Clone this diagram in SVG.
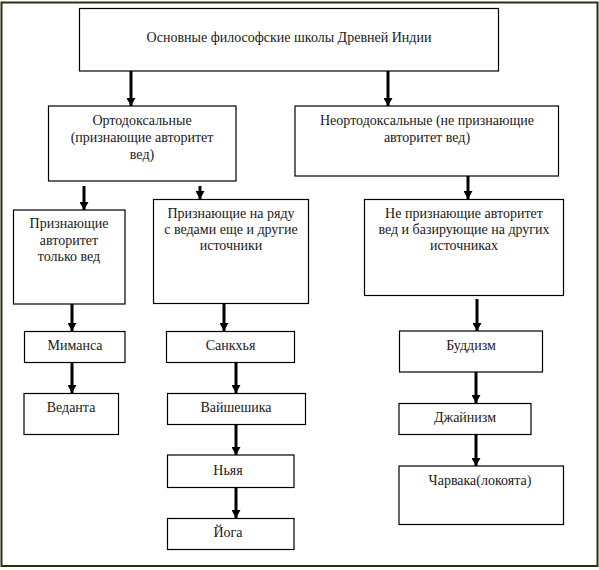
<svg xmlns="http://www.w3.org/2000/svg" width="599" height="570" viewBox="0 0 599 570">
<defs>
<marker id="ah" viewBox="0 0 8 9" refX="8" refY="4.5" markerWidth="8" markerHeight="9" markerUnits="userSpaceOnUse" orient="auto">
<path d="M0,0 L8,4.5 L0,9 Z" fill="#000"/>
</marker>
<style>
.b{fill:#fff;stroke:#000;stroke-width:1.2}
.t{font-family:"Liberation Serif","Times New Roman",serif;font-size:14px;fill:#1a1a1a;text-anchor:middle;dominant-baseline:central}
.c line{stroke:#000;stroke-width:3;marker-end:url(#ah)}
</style>
</defs>
<rect x="0" y="0" width="599" height="570" fill="#fff"/>
<rect x="1.5" y="2.5" width="596" height="563.5" fill="#fff" stroke="#2e2e10" stroke-width="2"/>
<g class="c" id="connectors">
<line x1="131" y1="71" x2="131" y2="106"/>
<line x1="388" y1="71" x2="388" y2="106"/>
<line x1="84" y1="186" x2="84" y2="210"/>
<line x1="200" y1="186" x2="200" y2="199"/>
<line x1="468" y1="176" x2="468" y2="199"/>
<line x1="72" y1="304" x2="72" y2="331"/>
<line x1="224" y1="303" x2="224" y2="331"/>
<line x1="477" y1="299" x2="477" y2="331"/>
<line x1="72" y1="362" x2="72" y2="393"/>
<line x1="236" y1="362" x2="236" y2="393"/>
<line x1="476" y1="372" x2="476" y2="403"/>
<line x1="236" y1="419" x2="236" y2="455"/>
<line x1="236" y1="487" x2="236" y2="518"/>
<line x1="476" y1="434" x2="476" y2="466"/>
</g>
<g id="root"><rect class="b" x="79.5" y="8.5" width="419" height="62.5"/><text class="t" font-family="Liberation Serif, serif" x="289" y="37.5">Основные философские школы Древней Индии</text></g>
<g id="ortho"><rect class="b" x="48.5" y="106" width="187.5" height="75"/><text class="t" x="142" y="120">Ортодоксальные</text><text class="t" x="142" y="137">(признающие авторитет</text><text class="t" x="142" y="154">вед)</text></g>
<g id="neortho"><rect class="b" x="295" y="106" width="263.5" height="70"/><text class="t" x="427" y="120">Неортодоксальные (не признающие</text><text class="t" x="427" y="137">авторитет вед)</text></g>
<g id="only"><rect class="b" x="13.5" y="210" width="111.5" height="94"/><text class="t" x="69" y="223.5">Признающие</text><text class="t" x="69" y="240">авторитет</text><text class="t" x="69" y="256">только вед</text></g>
<g id="other"><rect class="b" x="153.5" y="199.5" width="155" height="104"/><text class="t" x="231" y="213.5">Признающие на ряду</text><text class="t" x="231" y="229.5">с ведами еще и другие</text><text class="t" x="231" y="245">источники</text></g>
<g id="nonveda"><rect class="b" x="364.5" y="199.5" width="199" height="96"/><text class="t" x="464" y="213.5">Не признающие авторитет</text><text class="t" x="464" y="229.5">вед и базирующие на других</text><text class="t" x="464" y="245">источниках</text></g>
<g id="mimansa"><rect class="b" x="24.5" y="331.5" width="100.5" height="31"/><text class="t" x="75" y="345">Миманса</text></g>
<g id="sankhya"><rect class="b" x="166.5" y="331.5" width="128" height="31"/><text class="t" x="230.5" y="345">Санкхья</text></g>
<g id="buddhism"><rect class="b" x="399.5" y="331" width="143" height="41"/><text class="t" x="471" y="345">Буддизм</text></g>
<g id="vedanta"><rect class="b" x="24" y="393.5" width="94.5" height="41"/><text class="t" x="71" y="407">Веданта</text></g>
<g id="vaisheshika"><rect class="b" x="167.5" y="393.5" width="138" height="31"/><text class="t" x="236" y="407">Вайшешика</text></g>
<g id="jainism"><rect class="b" x="399" y="403.5" width="132" height="31"/><text class="t" x="465" y="417">Джайнизм</text></g>
<g id="nyaya"><rect class="b" x="167.5" y="455" width="126.5" height="32.5"/><text class="t" x="228" y="470">Ньяя</text></g>
<g id="charvaka"><rect class="b" x="399" y="466" width="164.5" height="58.5"/><text class="t" x="480" y="480">Чарвака(локоята)</text></g>
<g id="yoga"><rect class="b" x="167.5" y="518.5" width="126.5" height="31"/><text class="t" x="228" y="532">Йога</text></g>
</svg>
